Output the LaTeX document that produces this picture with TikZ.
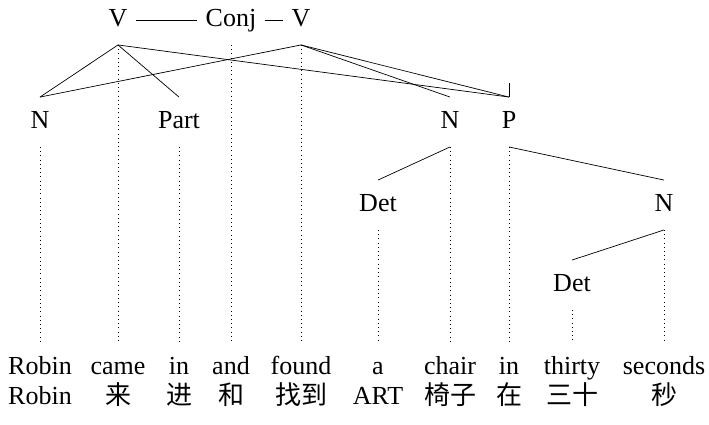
\documentclass[tikz,border=0pt]{standalone}
\usepackage{fontspec}
\setmainfont{Liberation Serif}
\newfontfamily\cjk{Noto Sans CJK SC}

\begin{document}
\begin{tikzpicture}[x=0.02cm,y=-0.02cm,font=\fontsize{14.8}{16}\selectfont,
  lab/.style={inner ysep=0pt,inner xsep=4.6pt,text height=10pt,text depth=3pt,minimum height=28pt},
  proj/.style={dotted}]
\useasboundingbox (0,0) rectangle (709,424);
\node[lab](v1) at (118,20){V};
\node[lab](conj) at (231,20){Conj};
\node[lab](v2) at (301,20){V};
\node[lab](n1) at (40,122){N};
\node[lab](part) at (179,122){Part};
\node[lab](n2) at (450,122){N};
\node[lab](p) at (509,122){P};
\node[lab](det1) at (378,205){Det};
\node[lab](n3) at (664,205){N};
\node[lab](det2) at (572,285){Det};
\coordinate(tick) at (509,83);
\node[lab](w1) at (40,368){Robin};
\node[lab](w2) at (118,368){came};
\node[lab](w3) at (179,368){in};
\node[lab](w4) at (231,368){and};
\node[lab](w5) at (301,368){found};
\node[lab](w6) at (378,368){a};
\node[lab](w7) at (450,368){chair};
\node[lab](w8) at (509,368){in};
\node[lab](w9) at (572,368){thirty};
\node[lab](w10) at (664,368){seconds};
\node[lab](g1) at (40,398){Robin};
\node[lab](g2) at (118,398){\cjk 来};
\node[lab](g3) at (179,398){\cjk 进};
\node[lab](g4) at (231,398){\cjk 和};
\node[lab](g5) at (301,398){\cjk 找到};
\node[lab](g6) at (378,398){ART};
\node[lab](g7) at (450,398){\cjk 椅子};
\node[lab](g8) at (509,398){\cjk 在};
\node[lab](g9) at (572,398){\cjk 三十};
\node[lab](g10) at (664,398){\cjk 秒};
\draw(v1) -- (conj);
\draw(conj) -- (v2);
\draw(v1.south) -- (n1.north);
\draw(v1.south) -- (part.north);
\draw(v1.south) -- (p.north);
\draw(v2.south) -- (n1.north);
\draw(v2.south) -- (n2.north);
\draw(v2.south) -- (p.north);
\draw(p.north) -- (tick);
\draw(n2.south) -- (det1.north);
\draw(p.south) -- (n3.north);
\draw(n3.south) -- (det2.north);
\draw[proj](v1.south) -- (w2.north);
\draw[proj](conj.south) -- (w4.north);
\draw[proj](v2.south) -- (w5.north);
\draw[proj](n1.south) -- (w1.north);
\draw[proj](part.south) -- (w3.north);
\draw[proj](n2.south) -- (w7.north);
\draw[proj](p.south) -- (w8.north);
\draw[proj](det1.south) -- (w6.north);
\draw[proj](n3.south) -- (w10.north);
\draw[proj](det2.south) -- (w9.north);
\end{tikzpicture}
\end{document}
